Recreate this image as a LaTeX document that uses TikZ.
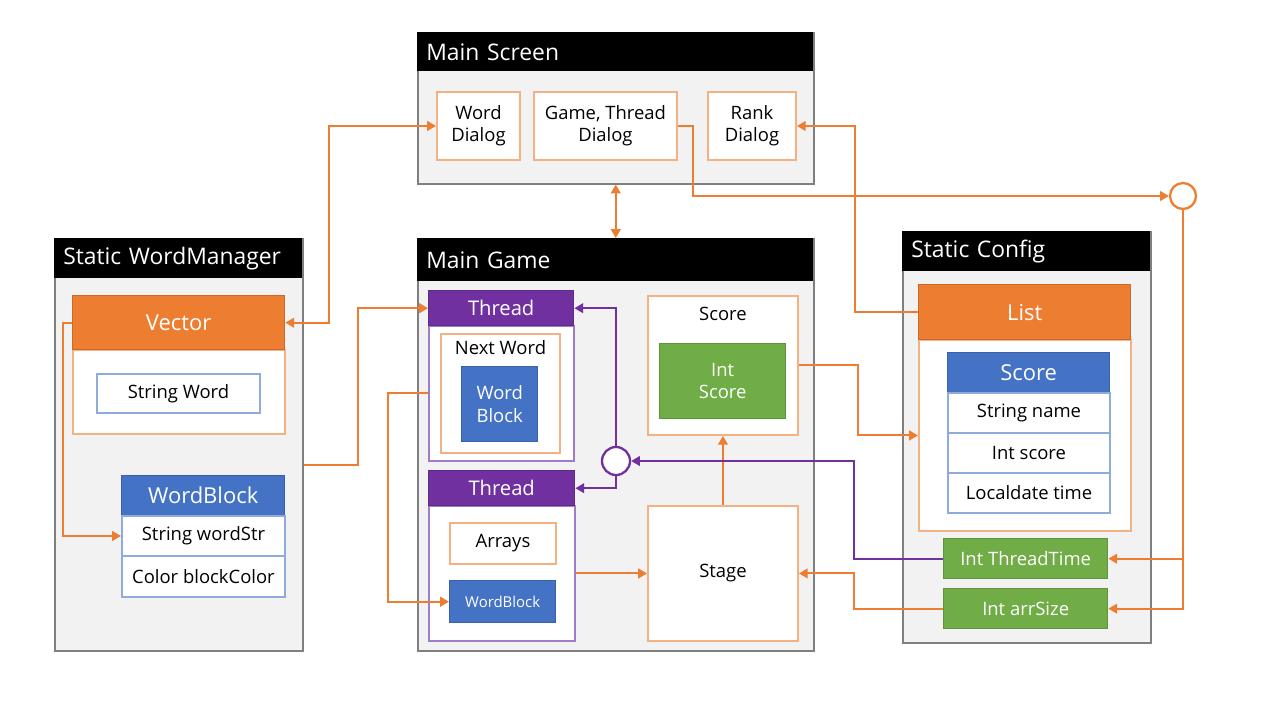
\documentclass[tikz,border=0pt]{standalone}
\usepackage{fontspec}
\setmainfont{Open Sans}
\usetikzlibrary{arrows.meta}

\definecolor{ppOrange}{HTML}{ED7D31}
\definecolor{ppOrangeLt}{HTML}{F4B183}
\definecolor{ppBlue}{HTML}{4472C4}
\definecolor{ppBlueLt}{HTML}{8FAADC}
\definecolor{ppGreen}{HTML}{70AD47}
\definecolor{ppPurple}{HTML}{7030A0}
\definecolor{ppPurpleLt}{HTML}{A07CC8}
\definecolor{ppGray}{HTML}{F2F2F2}
\definecolor{ppFrame}{HTML}{7F7F7F}

\begin{document}
\begin{tikzpicture}[x=0.02cm, y=-0.02cm,
    >={Triangle[length=5pt, width=5.5pt]},
    panel/.style={draw=ppFrame, fill=ppGray, line width=0.9pt, anchor=north west, inner sep=0},
    panelhead/.style={fill=black, text=white, anchor=north west, inner xsep=0.18cm, inner ysep=0,
        align=left, text width=#1, font=\fontsize{13}{15}\selectfont},
    obox/.style={draw=ppOrangeLt, fill=white, line width=1.1pt, anchor=north west, inner sep=0,
        align=center, font=\fontsize{10.5}{12.8}\selectfont},
    brow/.style={draw=ppBlueLt, fill=white, line width=1.1pt, anchor=north west, inner sep=0,
        align=center, font=\fontsize{10.5}{12.5}\selectfont},
    pbox/.style={draw=ppPurpleLt, fill=white, line width=1.1pt, anchor=north west, inner sep=0},
    ofill/.style={draw=ppOrange!85!black, fill=ppOrange, text=white, line width=0.8pt, anchor=north west,
        inner sep=0, font=\fontsize{12.5}{15}\selectfont},
    bfill/.style={draw=ppBlue!85!black, fill=ppBlue, text=white, line width=0.8pt, anchor=north west,
        inner sep=0, align=center, font=\fontsize{12.5}{15}\selectfont},
    pfill/.style={draw=ppPurple!85!black, fill=ppPurple, text=white, line width=0.8pt, anchor=north west,
        inner sep=0, font=\fontsize{11.5}{14}\selectfont},
    gfill/.style={draw=ppGreen!85!black, fill=ppGreen, text=white, line width=0.8pt, anchor=north west,
        inner sep=0, align=center, font=\fontsize{10.5}{12.8}\selectfont},
    joint/.style={circle, fill=white, line width=1.3pt, minimum size=#1, inner sep=0},
    flow/.style={draw=ppOrange, line width=1.1pt},
    pflow/.style={draw=ppPurple, line width=1.1pt}]

    \useasboundingbox (0,0) rectangle (1280,720);

    % Main Screen
    \node[panel, minimum width=7.92cm, minimum height=3.02cm] (ms) at (417,32) {};
    \node[panelhead=7.56cm, minimum height=0.78cm] (mshead) at (417,32) {Main Screen};
    \node[obox, minimum width=1.66cm, minimum height=1.36cm] (wdlg) at (436,91) {Word\\Dialog};
    \node[obox, minimum width=2.86cm, minimum height=1.36cm] (gdlg) at (533,91) {Game, Thread\\Dialog};
    \node[obox, minimum width=1.76cm, minimum height=1.36cm] (rdlg) at (707,91) {Rank\\Dialog};

    % Static WordManager
    \node[panel, minimum width=4.96cm, minimum height=8.24cm] (wm) at (54,238) {};
    \node[panelhead=4.60cm, minimum height=0.80cm] (wmhead) at (54,238) {Static WordManager};
    \node[obox, minimum width=4.24cm, minimum height=1.68cm] (vecbody) at (72,349) {};
    \node[ofill, minimum width=4.24cm, minimum height=1.08cm] (vec) at (72,295) {Vector};
    \node[brow, minimum width=3.26cm, minimum height=0.78cm] (sword) at (96,373) {String Word};
    \node[bfill, minimum width=3.26cm, minimum height=0.80cm] (wbhead) at (121,475) {WordBlock};
    \node[brow, minimum width=3.26cm, minimum height=0.80cm] (wbstr) at (121,515) {String wordStr};
    \node[brow, minimum width=3.26cm, minimum height=0.82cm] (wbcol) at (121,555) {Color blockColor};

    % Main Game
    \node[panel, minimum width=7.92cm, minimum height=8.24cm] (mg) at (417,238) {};
    \node[panelhead=7.56cm, minimum height=0.86cm] (mghead) at (417,238) {Main Game};
    \node[pbox, minimum width=2.90cm, minimum height=2.70cm] (th1body) at (428,325) {};
    \node[pfill, minimum width=2.90cm, minimum height=0.70cm] (th1) at (428,290) {Thread};
    \node[obox, minimum width=2.38cm, minimum height=2.38cm,
        label={[anchor=north, inner sep=4pt, font=\fontsize{10.5}{12.8}\selectfont]north:Next Word}] (nw) at (440,333) {};
    \node[bfill, minimum width=1.52cm, minimum height=1.50cm, font=\fontsize{10.5}{12.8}\selectfont] (nwb) at (461,366) {Word\\Block};
    \node[pbox, minimum width=2.92cm, minimum height=2.70cm] (th2body) at (428,505) {};
    \node[pfill, minimum width=2.92cm, minimum height=0.70cm] (th2) at (428,470) {Thread};
    \node[obox, minimum width=2.12cm, minimum height=0.82cm] (arr) at (449,522) {Arrays};
    \node[bfill, minimum width=2.12cm, minimum height=0.84cm, font=\fontsize{8.5}{10}\selectfont] (twb) at (449,580) {WordBlock};
    \node[obox, minimum width=3.00cm, minimum height=2.78cm,
        label={[anchor=north, inner sep=6.5pt, font=\fontsize{10.5}{12.8}\selectfont]north:Score}] (scbox) at (647,295) {};
    \node[gfill, minimum width=2.52cm, minimum height=1.50cm] (isc) at (659,343) {Int\\Score};
    \node[obox, minimum width=3.00cm, minimum height=2.70cm] (stage) at (647,505) {Stage};
    \node[joint=0.56cm, draw=ppPurple] (pc) at (616,461) {};

    % Static Config
    \node[panel, minimum width=4.96cm, minimum height=8.22cm] (sc) at (902,231) {};
    \node[panelhead=4.60cm, minimum height=0.80cm] (schead) at (902,231) {Static Config};
    \node[obox, minimum width=4.24cm, minimum height=3.82cm] (lstbody) at (918,339) {};
    \node[ofill, minimum width=4.24cm, minimum height=1.10cm] (lst) at (918,284) {List};
    \node[bfill, minimum width=3.24cm, minimum height=0.80cm] (sch) at (947,352) {Score};
    \node[brow, minimum width=3.24cm, minimum height=0.80cm] (rname) at (947,392) {String name};
    \node[brow, minimum width=3.24cm, minimum height=0.80cm] (rscore) at (947,432) {Int score};
    \node[brow, minimum width=3.24cm, minimum height=0.80cm] (rtime) at (947,472) {Localdate time};
    \node[gfill, minimum width=3.28cm, minimum height=0.80cm] (itt) at (943,538) {Int ThreadTime};
    \node[gfill, minimum width=3.28cm, minimum height=0.80cm] (ias) at (943,588) {Int arrSize};
    \node[joint=0.52cm, draw=ppOrange] (oc) at (1183,196) {};

    % Edges
    \draw[flow, <->] (vec.east) -- ++(44,0) |- (wdlg.west);
    \draw[flow, <->] (ms.south) -- (mg.north);
    \draw[flow, ->] (gdlg.east) -- ++(15,0) |- (oc.west);
    \draw[flow, ->] (oc.south) |- (itt.east);
    \draw[flow, ->] (oc.south) |- (ias.east);
    \draw[flow, ->] (lst.west) -- ++(-63,0) |- (rdlg.east);
    \draw[flow, ->] ([yshift=-0.4cm]wm.east) -- ++(54,0) |- (th1.west);
    \draw[flow, ->] (vec.west) -- ++(-9,0) |- (wbstr.west);
    \draw[flow, ->] (th1body.west) -- ++(-40,0) |- (twb.west);
    \draw[flow, ->] (th2body.east) -- (stage.west);
    \draw[flow, ->] (stage.north) -- (scbox.south);
    \draw[flow, ->] (scbox.east) -- ++(59,0) |- (lstbody.west);
    \draw[flow, ->] (ias.west) -- ++(-89,0) |- (stage.east);
    \draw[pflow, ->] (itt.west) -- ++(-89,0) |- (pc.east);
    \draw[pflow, ->] (pc.north) |- (th1.east);
    \draw[pflow, ->] (pc.south) |- (th2.east);
\end{tikzpicture}
\end{document}
